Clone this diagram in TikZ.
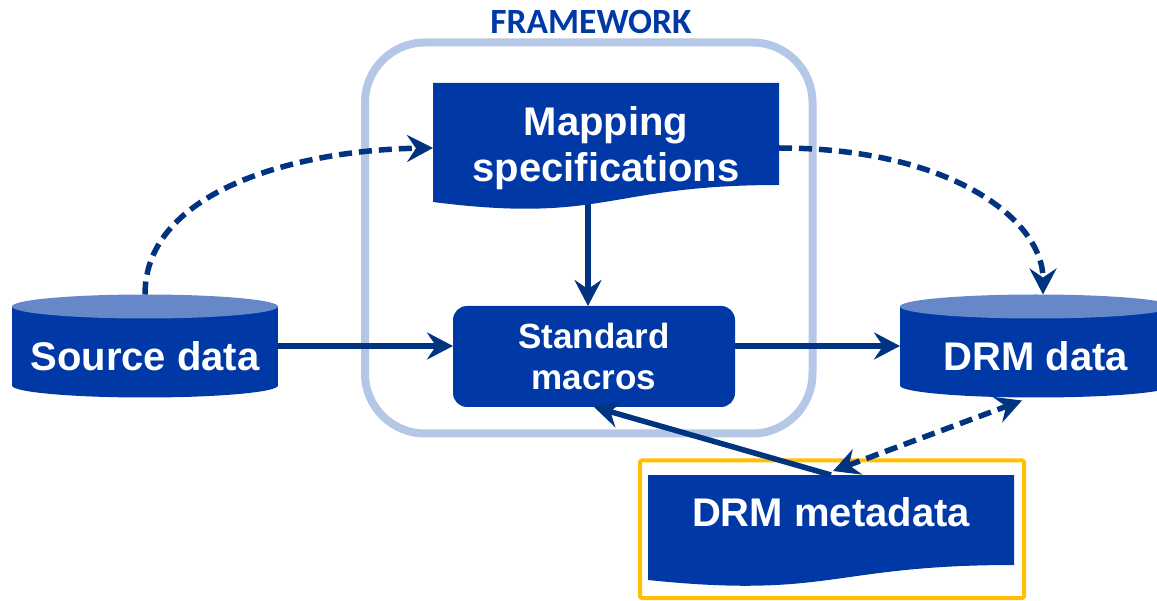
\documentclass[tikz,border=0pt]{standalone}
\usepackage{fontspec}
\setmainfont{Liberation Sans}
\newfontfamily\calibfont{Carlito}
\usetikzlibrary{arrows.meta,calc,backgrounds}
\definecolor{boxblue}{RGB}{0,57,166}
\definecolor{topblue}{RGB}{102,136,200}
\definecolor{navy}{RGB}{0,51,128}
\definecolor{fwblue}{RGB}{180,199,231}
\definecolor{gold}{RGB}{255,192,0}
\begin{document}
\begin{tikzpicture}[x=1pt,y=-1pt,
  >={Stealth[length=26pt,width=27pt,inset=9pt]},
  lbl/.style={text=white, font=\fontsize{40}{46}\selectfont\bfseries, align=center, inner sep=0pt, outer sep=0pt},
  cyllbl/.style={lbl, text height=50pt, text depth=0pt, minimum height=103pt},
  arr/.style={draw=navy, line width=5.5pt, ->},
  darr/.style={arr, dash pattern=on 13pt off 7pt},
]
\useasboundingbox (0,0) rectangle (1157,601);

% framework
\node[draw=fwblue, line width=8pt, rounded corners=60pt, minimum width=447.5pt, minimum height=391pt, inner sep=0pt] (fw) at (588.75,238) {};
\node[font=\calibfont\bfseries\fontsize{35.5}{40}\selectfont, text=boxblue, inner sep=0pt] (fwl) at (591,22) {FRAMEWORK};

% nodes
\node[cyllbl, minimum width=266pt] (src) at (145,346) {Source data};
\node[cyllbl, minimum width=272pt] (drm) at (1036,346) {DRM data};
\node[lbl, minimum width=346pt, minimum height=121pt] (map) at (606,148.5) {Mapping\\specifications};
\node[lbl, font=\fontsize{35}{41}\selectfont\bfseries, fill=boxblue, rounded corners=14pt, minimum width=282pt, minimum height=101pt] (std) at (594,356.5) {Standard\\macros};
\node[draw=gold, line width=4pt, rounded corners=2pt, minimum width=384pt, minimum height=137.5pt, inner sep=0pt] (metaframe) at (832,529.25) {};
\node[lbl, minimum width=366pt, minimum height=74pt] (meta) at (831,512) {DRM metadata};

\begin{scope}[on background layer]
  % cylinders
  \foreach \n/\r in {src/133, drm/136}{
    \fill[boxblue] ($(\n.north west)+(0,12)$) rectangle ($(\n.south east)+(0,-12)$);
    \fill[boxblue] ($(\n.south)+(0,-12)$) ellipse[x radius=\r pt, y radius=12pt];
    \fill[topblue] ($(\n.north)+(0,12)$) ellipse[x radius=\r pt, y radius=12pt];
  }
  % document shapes
  \fill[boxblue] ($(map.north west)+(0,-5)$) -- ($(map.north east)+(0,-5)$) -- ($(map.north east)+(0,97)$)
     .. controls ($(map.north)+(0,97)$) and ($(map.north)+(0,136)$) .. ($(map.north west)+(0,114)$) -- cycle;
  \fill[boxblue] (meta.north west) -- (meta.north east) -- ($(meta.north east)+(0,90)$)
     .. controls ($(meta.north)+(0,90)$) and ($(meta.north)+(0,124)$) .. ($(meta.north west)+(0,105)$) -- cycle;
\end{scope}

% connectors
\coordinate (vx) at (588,0);
\draw[arr] ($(map.south -| vx)+(0,-5)$) -- (std.north -| vx);
\draw[arr] (src.east) -- (src.east -| std.west);
\draw[arr] (std.east |- drm.west) -- (drm.west);
\draw[arr] (meta.north) -- (std.south);
\draw[darr] (src.north) .. controls ($(src.north)+(0,-105)$) and (300,150) .. ($(map.west)+(0,-0.5)$);
\draw[darr] ($(map.east)+(0,-0.5)$) .. controls (950,148) and ($(drm.north)+(7,-75)$) .. ($(drm.north)+(7,0)$);
\draw[darr, <->] ($(meta.north)+(2,-4)$) -- ($(drm.south)+(-14,3)$);
\end{tikzpicture}
\end{document}
